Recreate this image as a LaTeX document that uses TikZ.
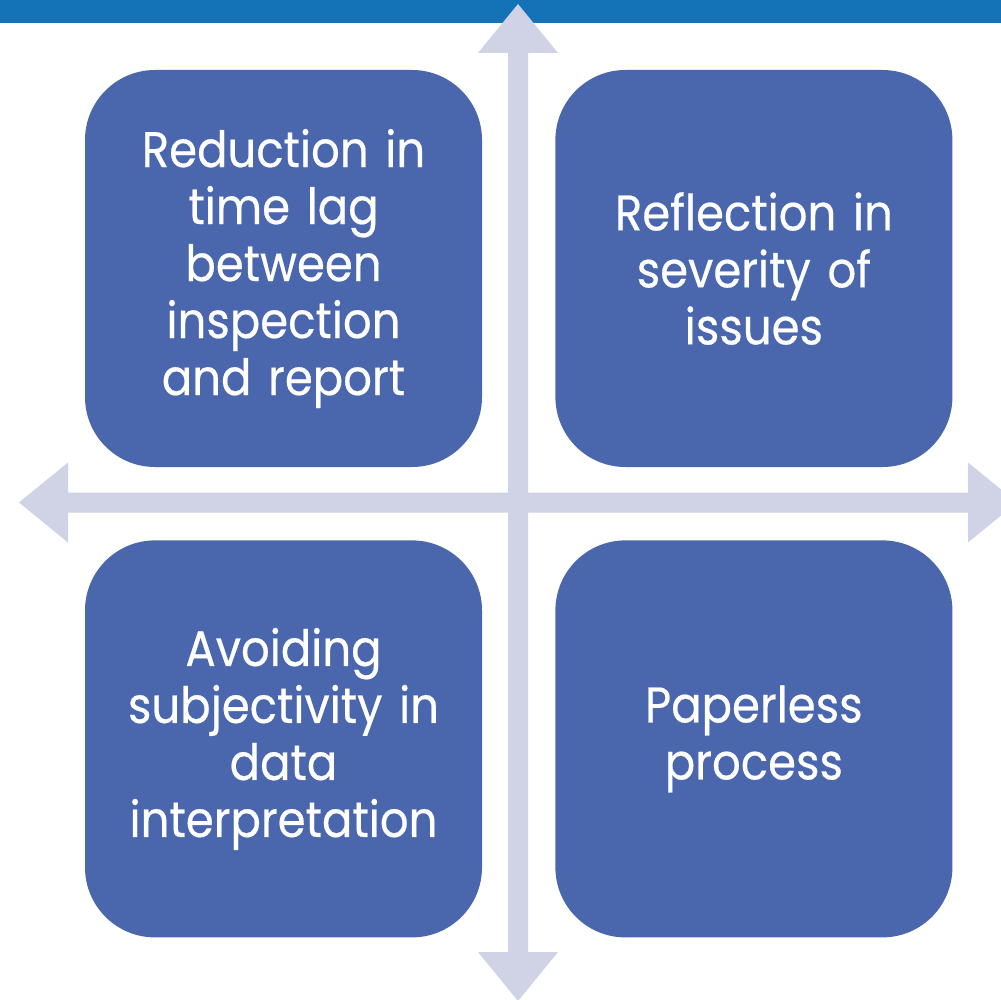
\documentclass[tikz,border=0pt]{standalone}
\usepackage{fontspec}
\setmainfont{Poppins}[FakeStretch=0.9, FakeBold=0.4]
\definecolor{TopBlue}{HTML}{1473B7}
\definecolor{BoxBlue}{HTML}{4A66AC}
\definecolor{AxisGrey}{HTML}{CFD3E5}
\usetikzlibrary{positioning}
\tikzset{
  % Box styles
  quadbox/.style={rectangle, rounded corners=70pt, fill=BoxBlue, text=white, minimum width=397pt, minimum height=397pt, text width=380pt, align=center, inner sep=0pt, font=\fontsize{50}{57}\selectfont},
  % Axis styles
  axisfill/.style={fill=AxisGrey}
}
\begin{document}
\begin{tikzpicture}[x=1pt, y=-1pt]
  \clip (0,0) rectangle (1001,1000);
  \fill[white] (0,0) rectangle (1001,1000);
  % Top band
  \fill[TopBlue] (0,0) rectangle (1001,23);

  % Axes
  \coordinate (cross) at (518,502.5);
  \fill[axisfill] (518,4) -- (558,53) -- (528,53) -- (528,952) -- (558,952) -- (518,1001)
    -- (478,952) -- (508,952) -- (508,53) -- (478,53) -- cycle;
  \fill[axisfill] (19,502.5) -- (68,462.5) -- (68,492.5) -- (968,492.5) -- (968,462.5) -- (1017,502.5)
    -- (968,542.5) -- (968,512.5) -- (68,512.5) -- (68,542.5) -- cycle;

  % Quadrant boxes
  \node[quadbox] (q1) at (283.5,268.5) {Reduction in\\time lag\\between\\inspection\\and report};
  \node[quadbox, right=73pt of q1] (q2) {Reflection in\\severity of\\issues};
  \node[quadbox, below=73pt of q1] (q3) {Avoiding\\subjectivity in\\data\\interpretation};
  \node[quadbox, right=73pt of q3] (q4) {Paperless\\process};
\end{tikzpicture}
\end{document}
